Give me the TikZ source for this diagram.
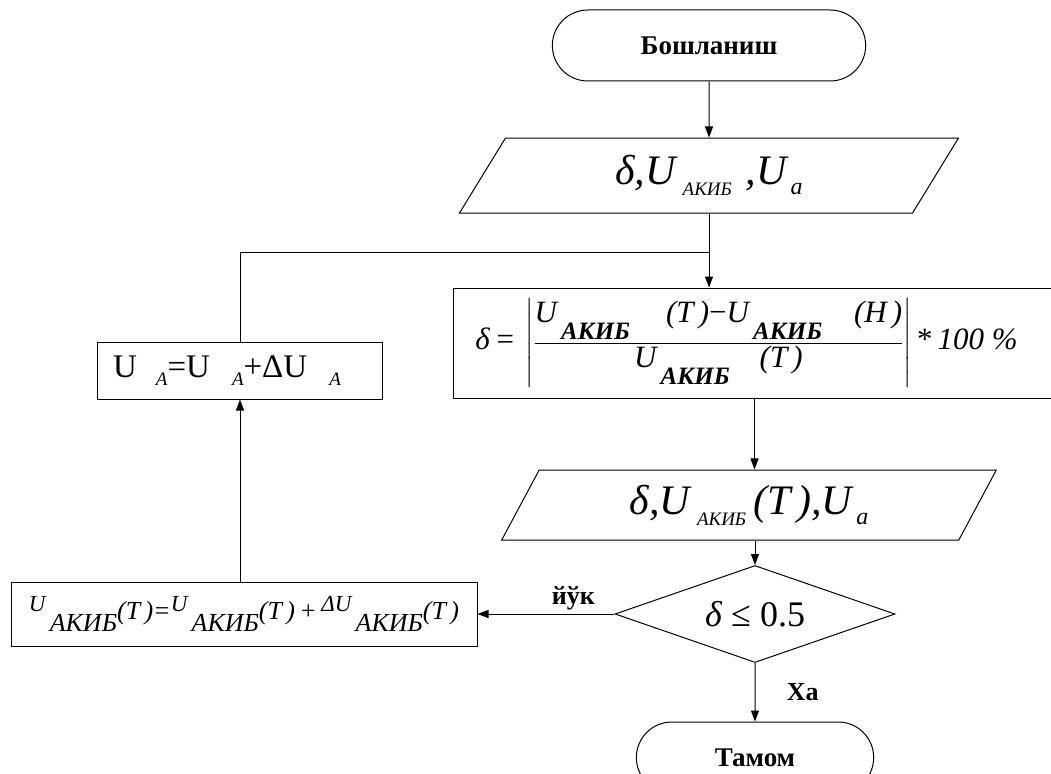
\documentclass[tikz,border=0pt]{standalone}
\usepackage{amsmath}
\usepackage{fontspec}
\setmainfont{Liberation Serif}
\usetikzlibrary{shapes.geometric,shapes.misc,arrows.meta}

\newcommand{\lowtext}[3]{\raisebox{#1}{\fontsize{#2}{#2}\selectfont #3}}

\tikzset{
    terminal/.style={draw, rounded rectangle, minimum height=71pt, font=\bfseries\fontsize{27}{30}\selectfont},
    iobox/.style={draw, trapezium, trapezium left angle=65, trapezium right angle=115, trapezium stretches=true},
    procbox/.style={draw, rectangle, inner sep=2pt},
    decision/.style={draw, diamond, shape aspect=2.9, minimum width=280pt, minimum height=97pt, inner sep=1pt},
    lbl/.style={font=\bfseries\fontsize{26}{28}\selectfont},
}

\begin{document}
\begin{tikzpicture}[x=1pt, y=-1pt, line width=1pt, >={Triangle[length=11pt, width=8pt]}]

    \useasboundingbox (0,0) rectangle (1051,773);

    \node[terminal, minimum width=320pt] (start) at (709,45.5) {Бошланиш};
    \node[iobox, minimum width=500pt, minimum height=75pt] (in1) at (709,175.5) {\fontsize{42}{44}\selectfont\itshape δ,U\,\lowtext{-11pt}{19}{АКИБ}\hspace{14pt},U\hspace{4pt}\lowtext{-10pt}{24}{a}};
    \node[procbox, minimum width=603pt, minimum height=110pt] (calc) at (754.5,343) {\fontsize{31}{34}\selectfont%
        $\textit{δ}\;\textrm{=}\;\left|\dfrac{\textit{U}\,\lowtext{-17pt}{25}{\bfseries\itshape АКИБ}\hspace{36pt}\textit{(T\,)}\textrm{−}\textit{U}\,\lowtext{-17pt}{25}{\bfseries\itshape АКИБ}\hspace{32pt}\textit{(H\,)}}{\textit{U}\,\lowtext{-17pt}{25}{\bfseries\itshape АКИБ}\hspace{30pt}\textit{(T\,)}}\right|$\,*\,\textit{100 \%}\hspace*{16pt}};
    \node[procbox, minimum width=285pt, minimum height=57pt] (upd) at (240,370.5) {\fontsize{33}{36}\selectfont U\hspace{19pt}\lowtext{-8pt}{19}{\itshape A}=U\hspace{22pt}\lowtext{-8pt}{19}{\itshape A}+ΔU\hspace{22pt}\lowtext{-8pt}{19}{\itshape A}\hspace*{26pt}};
    \node[iobox, minimum width=496pt, minimum height=70pt] (out1) at (749,505) {\fontsize{42}{44}\selectfont\itshape δ,U\,\lowtext{-11pt}{19}{АКИБ}\,(T\,),U\hspace{4pt}\lowtext{-10pt}{24}{a}};
    \node[decision] (cond) at (755,614) {\fontsize{36}{38}\selectfont\textit{δ} ≤ 0.5};
    \node[procbox, minimum width=466pt, minimum height=64pt] (corr) at (244,614) {\fontsize{26}{28}\selectfont\itshape%
        \lowtext{0pt}{23}{U}\,\lowtext{-20pt}{26}{АКИБ}\lowtext{-8pt}{26}{(T\,)}\lowtext{-8pt}{26}{=}\lowtext{0pt}{23}{U}\,\lowtext{-20pt}{26}{АКИБ}\lowtext{-8pt}{26}{(T\,)}\,\lowtext{-8pt}{26}{+}\,\lowtext{0pt}{23}{ΔU}\,\lowtext{-20pt}{26}{АКИБ}\lowtext{-8pt}{26}{(T\,)}};
    \node[terminal, minimum width=244pt] (stop) at (755,757.5) {Тамом};

    \coordinate (join) at (709,252);

    \draw[->] (start) -- (in1);
    \draw[->] (in1) -- (in1 |- calc.north);
    \draw (upd) |- (join);
    \draw[->] (calc) -- (calc |- out1.north);
    \draw[->] (out1.south -| cond) -- (cond);
    \draw[->] (cond) -- (corr) node[lbl, pos=0.3, above] {йўк};
    \draw[->] (corr.north -| upd) -- (upd);
    \draw[->] (cond) -- (stop) node[lbl, midway, right=28pt] {Ха};

\end{tikzpicture}
\end{document}
